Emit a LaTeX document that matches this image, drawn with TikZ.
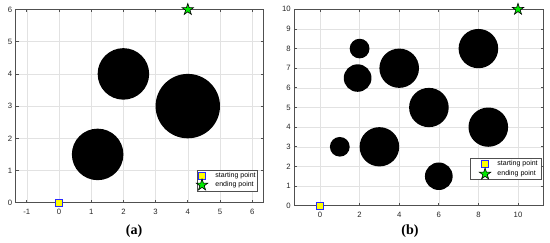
\documentclass[tikz,border=0pt]{standalone}
\usepackage{fontspec}
\setmainfont{Liberation Sans}
\newfontfamily\capfont{Liberation Serif}
\usetikzlibrary{shapes.geometric}
\definecolor{gridc}{RGB}{226,226,226}
\definecolor{axc}{RGB}{80,80,80}
\definecolor{mkyellow}{RGB}{255,255,0}
\definecolor{mkblue}{RGB}{40,40,255}
\definecolor{mkgreen}{RGB}{0,235,0}
\tikzset{
 gridline/.style={draw=gridc, line width=0.3pt},
 axisbox/.style={draw=axc, line width=0.45pt},
 ticklab/.style={font=\fontsize{4.4}{4.8}\selectfont, inner sep=0pt, text=black!85},
 legtext/.style={font=\fontsize{4.0}{4.5}\selectfont, inner sep=0pt, anchor=west},
 startmk/.style={draw=mkblue, fill=mkyellow, minimum size=0.14cm, inner sep=0pt, line width=0.45pt},
 endmk/.style={star, star points=5, star point ratio=2.6, draw=black, fill=mkgreen, minimum size=0.24cm, inner sep=0pt, line width=0.35pt},
 obst/.style={fill=black},
 legbox/.style={draw=axc, fill=white, line width=0.4pt},
 captext/.style={font=\capfont\bfseries\fontsize{8}{9}\selectfont, inner sep=0pt},
}
\begin{document}
\begin{tikzpicture}
\useasboundingbox (0,0) rectangle (11,-4.84);
% ---------------- plot (a) ----------------
\begin{scope}[shift={(1.18cm,-4.054cm)}, x=0.644cm, y=0.644cm]
 \foreach \i in {-1,...,6} \draw[gridline] (\i,0) -- (\i,6);
 \foreach \j in {0,...,6} \draw[gridline] (-1.34,\j) -- (6.35,\j);
 \fill[obst] (2,4) circle (0.8);
 \fill[obst] (4,3) circle (1.0);
 \fill[obst] (1.2,1.5) circle (0.8);
 \draw[axisbox] (-1.34,0) rectangle (6.35,6);
 \foreach \i in {-1,...,6} {
   \draw[axisbox] (\i,0) -- ++(0,0.09);
   \draw[axisbox] (\i,6) -- ++(0,-0.09);
   \node[ticklab] (axA\i) at (\i,-0.29) {\i};
 }
 \foreach \j in {0,...,6} {
   \draw[axisbox] (-1.34,\j) -- ++(0.09,0);
   \draw[axisbox] (6.35,\j) -- ++(-0.09,0);
   \node[ticklab, anchor=east] (ayA\j) at (-1.44,\j) {\j};
 }
 \node[startmk] (startA) at (0,0) {};
 \node[endmk] (endA) at (4,6) {};
\end{scope}
% ---------------- plot (b) ----------------
\begin{scope}[shift={(6.4cm,-4.114cm)}, x=0.396cm, y=0.3928cm]
 \foreach \i in {0,2,...,10} \draw[gridline] (\i,0) -- (\i,10);
 \foreach \j in {0,...,10} \draw[gridline] (-1.3,\j) -- (11.3,\j);
 \fill[obst] (2,8) circle (0.5);
 \fill[obst] (1.9,6.5) circle (0.7);
 \fill[obst] (4,7) circle (1.0);
 \fill[obst] (8,8) circle (1.0);
 \fill[obst] (5.5,5) circle (1.0);
 \fill[obst] (8.5,4) circle (1.0);
 \fill[obst] (1,3) circle (0.5);
 \fill[obst] (3,3) circle (1.0);
 \fill[obst] (6,1.5) circle (0.7);
 \draw[axisbox] (-1.3,0) rectangle (11.3,10);
 \foreach \i in {0,2,...,10} {
   \draw[axisbox] (\i,0) -- ++(0,0.15);
   \draw[axisbox] (\i,10) -- ++(0,-0.15);
   \node[ticklab] (axB\i) at (\i,-0.48) {\i};
 }
 \foreach \j in {0,...,10} {
   \draw[axisbox] (-1.3,\j) -- ++(0.15,0);
   \draw[axisbox] (11.3,\j) -- ++(-0.15,0);
   \node[ticklab, anchor=east] (ayB\j) at (-1.46,\j) {\j};
 }
 \node[startmk] (startB) at (0,0) {};
 \node[endmk] (endB) at (10,10) {};
\end{scope}
% ---------------- legends and captions (pixel coordinates) ----------------
\begin{scope}[x=0.02cm, y=-0.02cm]
 \draw[legbox] (197.3,170) rectangle (257.3,191);
 \node[startmk] (legSA) at (202,175.5) {};
 \node[endmk] (legEA) at (202,185) {};
 \node[legtext] (legSAt) at (215,175.5) {starting point};
 \node[legtext] (legEAt) at (215,185) {ending point};
 \draw[legbox] (470.7,158.7) rectangle (541,179.3);
 \node[startmk] (legSB) at (485,163.5) {};
 \node[endmk] (legEB) at (485,174) {};
 \node[legtext] (legSBt) at (497,164) {starting point};
 \node[legtext] (legEBt) at (497,174) {ending point};
 \node[captext] (capA) at (134,231) {(a)};
 \node[captext] (capB) at (410,231) {(b)};
\end{scope}
\end{tikzpicture}
\end{document}
